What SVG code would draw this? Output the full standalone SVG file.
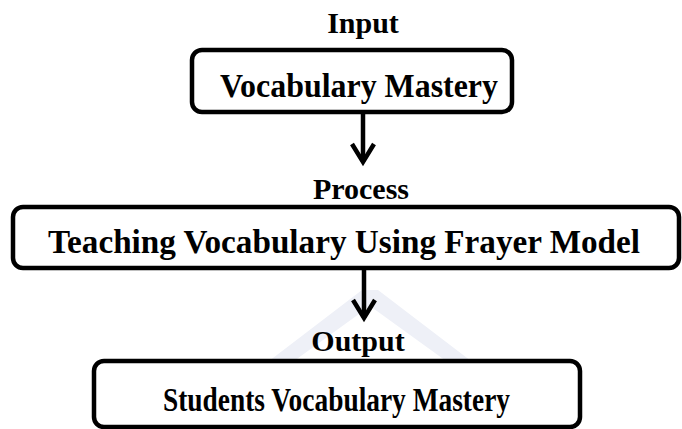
<svg xmlns="http://www.w3.org/2000/svg" width="682" height="429" viewBox="0 0 682 429">
<style>
.box{fill:#fff;stroke:#000;stroke-width:4.5}
.lbl{font-family:"Liberation Serif","Times New Roman",serif;font-weight:bold;font-size:30px;fill:#000;text-anchor:middle}
.txt{font-family:"Liberation Serif","Times New Roman",serif;font-weight:bold;font-size:34px;fill:#000}
.conn{fill:none;stroke:#000;stroke-width:4.5;stroke-linejoin:miter}
.wm{fill:#eef0f7}
</style>
<rect width="682" height="429" fill="#fff"/>
<g id="watermark">
<polygon class="wm" points="362,290 378,290 560,429 540,429 370,306 200,429 180,429"/>
<polygon class="wm" points="300,410 330,395 330,429 300,429"/>
<polygon class="wm" points="345,395 360,395 360,429 345,429"/>
<polygon class="wm" points="375,395 392,395 392,429 375,429"/>
<polygon class="wm" points="410,395 425,410 425,429 410,429"/>
</g>
<g id="connectors">
<path class="conn" d="M363 112 V162"/>
<path class="conn" d="M352 144 L363 162 L374 144"/>
<path class="conn" d="M364 268 V318"/>
<path class="conn" d="M353 300 L364 318 L375 300"/>
</g>
<g id="input">
<text class="lbl" x="363" y="33">Input</text>
<rect class="box" x="192" y="50" width="320" height="62" rx="10"/>
<text class="txt" x="220" y="97" textLength="278" lengthAdjust="spacingAndGlyphs">Vocabulary Mastery</text>
</g>
<g id="process">
<text class="lbl" x="361" y="199">Process</text>
<rect class="box" x="13" y="207" width="666" height="61" rx="10"/>
<text class="txt" x="48" y="253" textLength="592" lengthAdjust="spacingAndGlyphs">Teaching Vocabulary Using Frayer Model</text>
</g>
<g id="output">
<text class="lbl" x="358" y="351">Output</text>
<rect class="box" x="94" y="361" width="486" height="66" rx="10"/>
<text class="txt" x="163" y="411" textLength="347" lengthAdjust="spacingAndGlyphs">Students Vocabulary Mastery</text>
</g>
</svg>
